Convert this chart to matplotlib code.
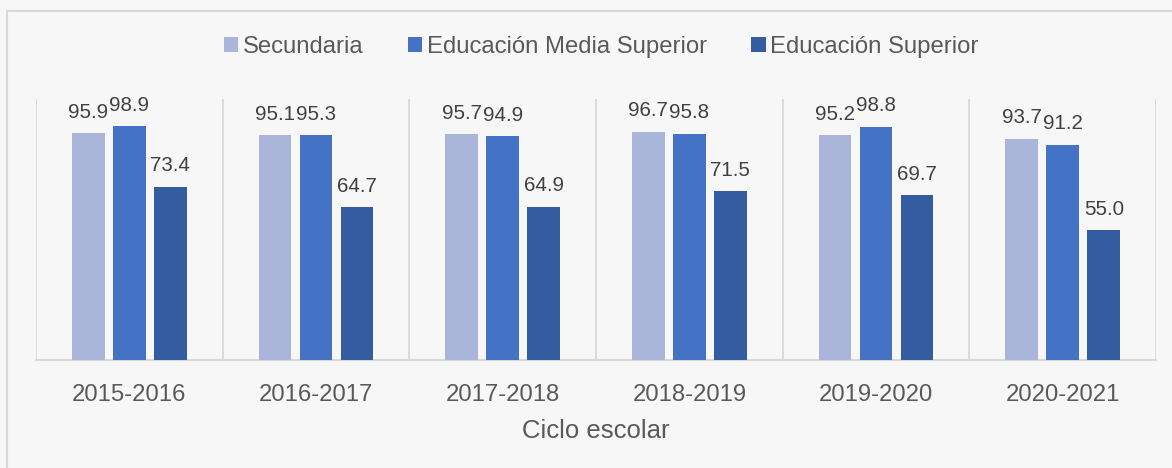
import matplotlib.pyplot as plt
import numpy as np
from matplotlib.patches import Patch, Rectangle

plt.rcParams['font.family'] = ['Liberation Sans', 'DejaVu Sans']

ciclos = ['2015-2016', '2016-2017', '2017-2018', '2018-2019', '2019-2020', '2020-2021']
secundaria = [95.9, 95.1, 95.7, 96.7, 95.2, 93.7]
media_superior = [98.9, 95.3, 94.9, 95.8, 98.8, 91.2]
superior = [73.4, 64.7, 64.9, 71.5, 69.7, 55.0]

series = ['Secundaria', 'Educación Media Superior', 'Educación Superior']
colores = ['#a9b6da', '#4472c4', '#345ca1']

fig = plt.figure(figsize=(11.72, 4.68), dpi=100, facecolor='#f7f7f7')
ax = fig.add_axes([36/1172, 1-360/468, (1156-36)/1172, (360-99)/468])
ax.set_facecolor('none')

x = np.arange(len(ciclos))
ancho = 0.175
paso = 0.22
for i, (vals, col) in enumerate(zip([secundaria, media_superior, superior], colores)):
    pos = x + (i-1)*paso
    ax.bar(pos, vals, width=ancho, color=col, zorder=3)
    for p, v in zip(pos, vals):
        ax.annotate(f'{v:.1f}', (p, v), xytext=(0, 11), textcoords='offset points',
                    ha='center', va='baseline', fontsize=14.8, color='#404040')

ax.set_xlim(-0.5, len(ciclos)-0.5)
ax.set_ylim(0, 110.5)
ax.set_yticks([])
ax.set_xticks(x)
ax.set_xticklabels(ciclos, fontsize=17.2, color='#595959')
ax.tick_params(axis='x', length=0, pad=17)
# separadores verticales entre ciclos
ax.set_xticks(np.arange(-0.5, len(ciclos)), minor=True)
ax.tick_params(axis='x', which='minor', length=0)
ax.grid(axis='x', which='minor', color='#d9d9d9', lw=1.3)
for s in ['top', 'left', 'right']:
    ax.spines[s].set_visible(False)
ax.spines['bottom'].set_color('#d9d9d9')
ax.spines['bottom'].set_linewidth(1.5)
ax.set_xlabel('Ciclo escolar', fontsize=18.5, color='#595959', labelpad=10)

handles = [Patch(facecolor=c, edgecolor='none') for c in colores]
fig.legend(handles, series, loc='center', bbox_to_anchor=(0.513, 1-47/468), ncol=3,
           frameon=False, fontsize=17.2, handlelength=0.6, handleheight=0.6,
           handletextpad=0.2, columnspacing=1.85, labelcolor='#595959')

# marco exterior
fig.patches.append(Rectangle((7/1172, -0.1), 1.1, 1.1-11/468, transform=fig.transFigure,
                             fill=False, edgecolor='#d9d9d9', lw=1.5))

fig.savefig('out.png', dpi=100, facecolor=fig.get_facecolor())
